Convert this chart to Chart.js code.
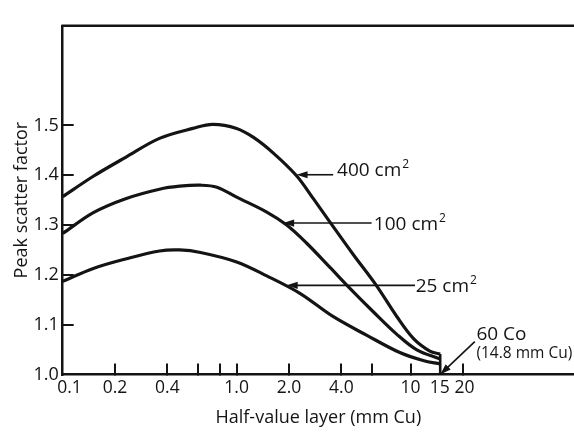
<!DOCTYPE html>
<html>
<head>
<meta charset="utf-8">
<script src="https://cdn.jsdelivr.net/npm/chart.js@4"></script>
<style>
  html, body { margin: 0; padding: 0; background: #fff; }
  #wrap { width: 574px; height: 432px; }
</style>
</head>
<body>
<div id="wrap"><canvas id="chart" width="574" height="432"></canvas></div>
<script>
// Peak scatter factor vs HVL
const hvl400 = [0.1, 0.15, 0.23, 0.36, 0.56, 0.73, 1.0, 1.25, 1.62, 2.21, 2.76, 3.44, 4.68, 6.38, 8.31, 10.4, 12.9, 14.8];
const psf400 = [1.357, 1.398, 1.436, 1.474, 1.494, 1.502, 1.494, 1.476, 1.445, 1.399, 1.353, 1.306, 1.241, 1.178, 1.117, 1.072, 1.047, 1.041];

const hvl100 = [0.1, 0.15, 0.23, 0.36, 0.47, 0.62, 0.77, 1.0, 1.49, 1.94, 2.52, 3.44, 4.48, 6.1, 8.31, 10.8, 14.8];
const psf100 = [1.283, 1.325, 1.353, 1.372, 1.378, 1.380, 1.376, 1.356, 1.326, 1.300, 1.264, 1.215, 1.173, 1.126, 1.081, 1.050, 1.031];

const hvl25 = [0.1, 0.15, 0.23, 0.36, 0.47, 0.62, 1.0, 1.49, 2.31, 3.56, 5.58, 8.67, 11.8, 14.8];
const psf25 = [1.187, 1.213, 1.232, 1.248, 1.250, 1.245, 1.226, 1.198, 1.163, 1.117, 1.079, 1.044, 1.028, 1.021];

// 60Co end point: curves meet and drop to the axis
const coX = [14.8, 14.8];
const coY = [1.0, 1.041];

const xTickVals = [0.1, 0.2, 0.4, 0.6, 0.8, 1, 2, 4, 6, 10, 15, 20];
const xTickLabels = ['   0.1', '0.2', '0.4', '', '', '1.0', '2.0', '4.0', '', '10', '15\u2009', '\u200920'];
const yTickVals = [1.0, 1.1, 1.2, 1.3, 1.4, 1.5];
const yTickLabels = ['1.0', '1.1', '1.2', '1.3', '1.4', '1.5'];

// field size labels: arrow tip on curve, arrow tail, text start, text baseline
const noteText = ['400 cm', '100 cm', '25 cm'];
const noteTipX = [2.21, 1.85, 1.94];
const noteTailX = [3.59, 5.97, 10.6];
const noteArrowY = [1.401, 1.304, 1.179];
const noteTextX = [3.78, 6.15, 10.7];
const noteBaseY = [1.398, 1.291, 1.166];

const INK = '#141414';
const FONT = '"Open Sans", "Noto Sans", sans-serif';

const pts = (xs, ys) => xs.map((v, i) => ({ x: v, y: ys[i] }));

function arrow(ctx, x1, y1, x2, y2) {
    const a = Math.atan2(y2 - y1, x2 - x1);
    const len = 11, half = 3.6;
    ctx.lineWidth = 1.6;
    ctx.beginPath();
    ctx.moveTo(x1, y1);
    ctx.lineTo(x2 - Math.cos(a) * len * 0.8, y2 - Math.sin(a) * len * 0.8);
    ctx.stroke();
    ctx.beginPath();
    ctx.moveTo(x2, y2);
    ctx.lineTo(x2 - len * Math.cos(a) + half * Math.sin(a), y2 - len * Math.sin(a) - half * Math.cos(a));
    ctx.lineTo(x2 - len * Math.cos(a) - half * Math.sin(a), y2 - len * Math.sin(a) + half * Math.cos(a));
    ctx.closePath();
    ctx.fill();
}

const frameAndNotes = {
    id: 'frameAndNotes',
    afterDraw(chart) {
        const { ctx, chartArea, scales: { x, y } } = chart;
        ctx.save();
        ctx.strokeStyle = INK;
        ctx.fillStyle = INK;

        // top frame line (no right edge in the original)
        ctx.lineWidth = 2.5;
        ctx.beginPath();
        ctx.moveTo(chartArea.left - 1.25, chartArea.top);
        ctx.lineTo(chart.width, chartArea.top);
        ctx.stroke();

        // field size labels
        ctx.textBaseline = 'alphabetic';
        ctx.textAlign = 'left';
        noteText.forEach((t, i) => {
            const ay = y.getPixelForValue(noteArrowY[i]);
            arrow(ctx, x.getPixelForValue(noteTailX[i]), ay, x.getPixelForValue(noteTipX[i]), ay);
            const tx = x.getPixelForValue(noteTextX[i]);
            const ty = y.getPixelForValue(noteBaseY[i]);
            ctx.font = '19px ' + FONT;
            ctx.fillText(t, tx, ty);
            const w = ctx.measureText(t).width;
            ctx.font = '12px ' + FONT;
            ctx.fillText('2', tx + w + 1, ty - 8);
        });

        // 60Co note
        arrow(ctx, x.getPixelForValue(23.4), y.getPixelForValue(1.066), x.getPixelForValue(14.8), y.getPixelForValue(1.0));
        ctx.font = '19px ' + FONT;
        ctx.fillText('60 Co', x.getPixelForValue(23.9), y.getPixelForValue(1.0693));
        ctx.font = '15.5px ' + FONT;
        ctx.fillText('(14.8 mm Cu)', x.getPixelForValue(23.9), y.getPixelForValue(1.0335));
        ctx.restore();
    }
};

const curve = (data) => ({
    data,
    borderColor: INK,
    borderWidth: 3.2,
    pointRadius: 0,
    tension: 0.35,
    fill: false
});

new Chart(document.getElementById('chart'), {
    type: 'line',
    data: {
        datasets: [
            curve(pts(hvl400, psf400)),
            curve(pts(hvl100, psf100)),
            curve(pts(hvl25, psf25)),
            Object.assign(curve(pts(coX, coY)), { borderWidth: 2.6, tension: 0 })
        ]
    },
    options: {
        responsive: false,
        animation: false,
        layout: { padding: { top: 7.5, right: 0, bottom: 0, left: 0 } },
        plugins: { legend: { display: false }, tooltip: { enabled: false } },
        scales: {
            x: {
                type: 'logarithmic',
                min: 0.1, max: 87, bounds: 'data',
                afterBuildTicks: s => { s.ticks = xTickVals.map(v => ({ value: v })); },
                afterFit: s => { s.height = 57.5; },
                border: { display: true, color: INK, width: 2.5 },
                grid: {
                    drawOnChartArea: false, drawTicks: true, tickLength: -11, lineWidth: 2,
                    color: c => (c.tick && (c.tick.value === 0.1 || c.tick.value === 15)) ? 'rgba(0,0,0,0)' : INK
                },
                ticks: {
                    autoSkip: false, maxRotation: 0, minRotation: 0, padding: 14, color: INK,
                    font: { family: FONT, size: 17.5 },
                    callback: (v, i) => xTickLabels[i]
                },
                title: {
                    display: true, text: 'Half-value layer (mm Cu)', color: INK,
                    font: { family: FONT, size: 18 }, padding: { top: 0, bottom: 3 }
                }
            },
            y: {
                min: 1.0, max: 1.70, bounds: 'data',
                afterBuildTicks: s => { s.ticks = yTickVals.map(v => ({ value: v })); },
                afterFit: s => { s.width = 62.7; },
                border: { display: true, color: INK, width: 2.5 },
                grid: {
                    drawOnChartArea: false, drawTicks: true, tickLength: -11, lineWidth: 2,
                    color: c => (c.tick && c.tick.value === 1.0) ? 'rgba(0,0,0,0)' : INK
                },
                ticks: {
                    autoSkip: false, padding: 15, color: INK,
                    font: { family: FONT, size: 18 },
                    callback: (v, i) => yTickLabels[i]
                },
                title: {
                    display: true, text: 'Peak scatter factor', color: INK,
                    font: { family: FONT, size: 18 }, padding: { top: 11, bottom: 0 }
                }
            }
        }
    },
    plugins: [frameAndNotes]
});
</script>
</body>
</html>
